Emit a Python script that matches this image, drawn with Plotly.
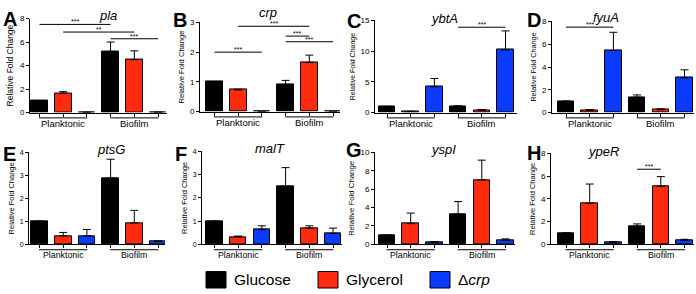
import plotly.graph_objects as go

# ---------------- data ----------------
genes = ["pla", "crp", "ybtA", "fyuA", "ptsG", "malT", "yspI", "ypeR"]
letters = ["A", "B", "C", "D", "E", "F", "G", "H"]
groups = ["Planktonic", "Biofilm"]
conditions = ["Glucose", "Glycerol", "Δcrp"]

glucose = [[1.0, 5.2], [1.0, 0.9], [1.0, 1.05], [1.0, 1.35], [1.0, 2.88], [1.0, 2.5], [1.0, 3.3], [1.0, 1.55]]
glucose_err = [[0, 0.8], [0, 0.15], [0, 0.05], [0, 0.2], [0, 0.82], [0, 0.8], [0, 1.35], [0, 0.25]]
glycerol = [[1.65, 4.5], [0.73, 1.65], [0.15, 0.35], [0.2, 0.25], [0.37, 0.93], [0.32, 0.7], [2.25, 7.0], [3.6, 5.1]]
glycerol_err = [[0.13, 0.75], [0.02, 0.25], [0.05, 0.15], [0.05, 0.08], [0.15, 0.55], [0.04, 0.1], [1.15, 2.15], [1.7, 0.85]]
dcrp = [[0.02, 0.03], [0, 0], [4.2, 10.2], [5.45, 3.05], [0.37, 0.12], [0.63, 0.47], [0.2, 0.45], [0.15, 0.35]]
dcrp_err = [[0, 0], [0, 0], [1.35, 3.1], [1.6, 0.7], [0.28, 0.03], [0.17, 0.23], [0.1, 0.15], [0.1, 0.1]]

y_max = [8, 3, 15, 8, 4, 4, 10, 8]
y_step = [2, 1, 5, 2, 1, 1, 2, 2]

# significance brackets: (bar from, bar to, level, label)
significance = {
    0: [(0, 3, 7.5, "***"), (1, 4, 6.85, "**"), (3, 5, 6.28, "***")],
    1: [(0, 2, 2.0, "***"), (1, 4, 2.87, "***"), (3, 4, 2.54, "***"), (3, 5, 2.35, "***")],
    2: [(3, 5, 13.9, "***")],
    3: [(0, 2, 7.5, "***")],
    7: [(3, 4, 6.6, "***")],
}

# ---------------- styling / layout ----------------
W, H = 696, 294
FONT = "Arial, Liberation Sans, sans-serif"
colors = ["#000000", "#ff2b0f", "#0a3bff"]
SPACING = 23.7  # px between bar centres
# plot boxes in pixels: left, right, bottom(y=0), top(y=max), first bar centre
boxes = [
    (30, 167, 112, 15, 39.5),
    (200, 340, 111, 19, 214.5),
    (375, 517, 112, 17, 387),
    (552, 694, 112, 18, 566),
    (29, 165, 248, 153, 39.5),
    (202, 342, 248, 152, 214.5),
    (375, 515, 248, 153, 387),
    (551, 694, 248, 154, 566),
]
letter_pos = [(1, 2), (171, 3), (345, 4), (525, 3), (1, 141), (173, 141), (344, 137), (525, 140)]
title_y = [12, 9, 15, 14, 150, 149, 150, 152]
ytitle_size = [8.5, 7.6, 7.0, 7.2, 7.5, 7.5, 7.8, 7.5]
ytick_size = [8, 8, 8, 8, 7, 7, 8, 8]


def px(x):
    return x / W


def py(y):
    return 1 - y / H


fig = go.Figure()
shapes = []
annotations = []
series = [(glucose, glucose_err), (glycerol, glycerol_err), (dcrp, dcrp_err)]

for i, gene in enumerate(genes):
    sfx = "" if i == 0 else str(i + 1)
    xref, yref = "x" + sfx, "y" + sfx
    for c, (vals, errs) in enumerate(series):
        xs = [g * 3 + c for g in range(len(groups))]
        fig.add_trace(go.Bar(
            x=xs, y=vals[i], name=conditions[c], showlegend=False,
            width=0.7,
            marker=dict(color=colors[c], line=dict(color="black", width=1)),
            error_y=dict(type="data", array=errs[i], arrayminus=[0] * len(errs[i]),
                         symmetric=False, color="black", thickness=1, width=4),
            xaxis=xref, yaxis=yref,
        ))
    left, right, bottom, top, b0 = boxes[i]
    top_row = i < 4
    fig.layout["xaxis" + sfx] = dict(
        domain=[px(left), px(right)], anchor=yref,
        range=[(left - b0) / SPACING, (right - b0) / SPACING],
        showline=True, linecolor="black", linewidth=1,
        tickvals=list(range(6)), ticks="outside", ticklen=3, tickcolor="black",
        showticklabels=False, showgrid=False, zeroline=False, fixedrange=True,
    )
    fig.layout["yaxis" + sfx] = dict(
        domain=[py(bottom), py(top)], anchor=xref,
        range=[0, y_max[i]],
        tickvals=list(range(0, y_max[i] + 1, y_step[i])),
        showline=True, linecolor="black", linewidth=1,
        ticks="outside", ticklen=3, tickcolor="black",
        tickfont=dict(family=FONT, size=ytick_size[i], color="black"),
        showgrid=False, zeroline=False,
        title=dict(text="Relative Fold Change", standoff=4,
                   font=dict(family=FONT, size=ytitle_size[i], color="black")),
    )
    # group underlines and labels
    for g, gname in enumerate(groups):
        shapes.append(dict(type="line", xref=xref, yref="paper",
                           x0=g * 3 - 0.02, x1=g * 3 + 2.02,
                           y0=py(bottom + 5.5), y1=py(bottom + 5.5),
                           line=dict(color="black", width=1)))
        annotations.append(dict(text=gname, xref=xref, yref="paper",
                                x=g * 3 + 1, y=py(bottom + 11), yanchor="middle",
                                showarrow=False,
                                font=dict(family=FONT, size=9.5 if top_row else 8.8, color="black")))
    # significance
    for (a, b, lvl, lab) in significance.get(i, []):
        shapes.append(dict(type="line", xref=xref, yref=yref, x0=a, x1=b, y0=lvl, y1=lvl,
                           line=dict(color="black", width=1)))
        annotations.append(dict(text=lab, xref=xref, yref=yref, x=(a + b) / 2, y=lvl,
                                yanchor="bottom", showarrow=False, yshift=-3,
                                font=dict(family=FONT, size=7, color="black")))
    # title and panel letter
    annotations.append(dict(text=f"<i>{gene}</i>", xref="paper", yref="paper",
                            x=px((left + right) / 2 - 2), y=py(title_y[i]), yanchor="middle",
                            showarrow=False, font=dict(family=FONT, size=13, color="black")))
    lx, ly = letter_pos[i]
    annotations.append(dict(text=f"<b>{letters[i]}</b>", xref="paper", yref="paper",
                            x=px(lx), y=py(ly), xanchor="left", yanchor="top",
                            showarrow=False, font=dict(family=FONT, size=20, color="black")))

# custom legend
legend_boxes = [(206, 226), (318, 338), (430, 450)]
legend_text = ["Glucose", "Glycerol", "Δ<i>crp</i>"]
for c in range(3):
    x0, x1 = legend_boxes[c]
    shapes.append(dict(type="rect", xref="paper", yref="paper",
                       x0=px(x0), x1=px(x1), y0=py(293), y1=py(276),
                       fillcolor=colors[c], line=dict(color="black", width=1)))
    annotations.append(dict(text=legend_text[c], xref="paper", yref="paper",
                            x=px(x1 + 6), y=py(284.5), xanchor="left", yanchor="middle",
                            showarrow=False, font=dict(family=FONT, size=15.5, color="black")))

fig.update_layout(
    width=W, height=H, margin=dict(l=0, r=0, t=0, b=0),
    paper_bgcolor="white", plot_bgcolor="white",
    barmode="overlay", bargap=0,
    shapes=shapes, annotations=annotations,
    font=dict(family=FONT, color="black"),
)

fig.write_html(
    "out.html",
    config={"displayModeBar": False},
    post_script="document.body.style.margin='0';document.body.style.overflow='hidden';",
)
